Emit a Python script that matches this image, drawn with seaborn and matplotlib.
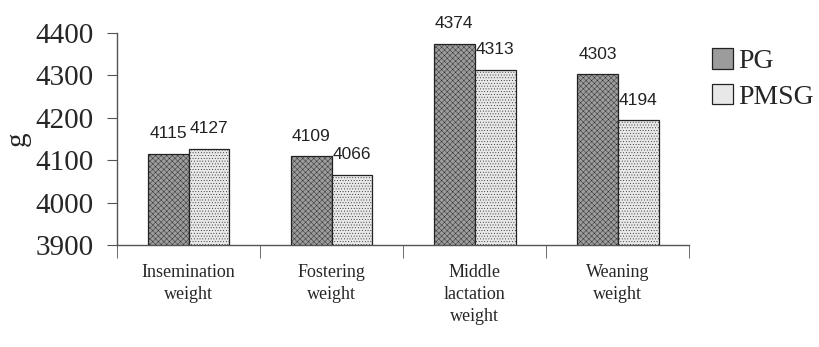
import pandas as pd
import matplotlib
matplotlib.use("Agg")
import matplotlib.pyplot as plt
import seaborn as sns

sns.set_style("white")
plt.rcParams["font.family"] = ["Liberation Serif", "DejaVu Serif"]
plt.rcParams["hatch.linewidth"] = 0.3

# data
categories = ["Insemination\nweight", "Fostering\nweight", "Middle\nlactation\nweight", "Weaning\nweight"]
groups = ["PG", "PMSG"]
pg_values = [4115, 4109, 4374, 4303]
pmsg_values = [4127, 4066, 4313, 4194]

df = pd.DataFrame({
    "category": categories * 2,
    "group": [groups[0]] * 4 + [groups[1]] * 4,
    "value": pg_values + pmsg_values,
})

fig = plt.figure(figsize=(8.2, 3.47), dpi=100)
ax = fig.add_axes([0.1427, 0.294, 0.698, 0.611])

sns.barplot(data=df, x="category", y="value", hue="group", order=categories,
            hue_order=groups, palette={"PG": "#9c9c9c", "PMSG": "#e8e8e8"},
            width=0.57, edgecolor="#222222", linewidth=0.9, ax=ax, legend=True)

hatches = {"PG": "xxxxxx", "PMSG": "......"}
for cont, g in zip(ax.containers, groups):
    for bar in cont:
        bar.set_hatch(hatches[g])
    ax.bar_label(cont, fmt="%d", padding=9, fontsize=12.5,
                 family=["Liberation Sans", "DejaVu Sans"], color="#222222")

ax.set_ylim(3900, 4400)
ax.set_yticks([3900, 4000, 4100, 4200, 4300, 4400])
ax.set_xlim(-0.5, 3.5)
ax.tick_params(axis="y", labelsize=21, length=7, direction="out", color="#555555",
               left=True, pad=10)
ax.tick_params(axis="x", which="major", length=0, labelsize=13, pad=14)
ax.set_xticks([-0.5, 0.5, 1.5, 2.5, 3.5], minor=True)
ax.tick_params(axis="x", which="minor", length=9, direction="out", color="#555555",
               bottom=True)
for lbl in ax.get_xticklabels():
    lbl.set_linespacing(1.35)

ax.set_xlabel("")
ax.set_ylabel("g", fontsize=21, rotation=90, labelpad=3)
sns.despine(ax=ax)
for s in ["left", "bottom"]:
    ax.spines[s].set_color("#555555")
    ax.spines[s].set_linewidth(1.0)

ax.legend(loc="upper left", bbox_to_anchor=(1.02, 0.98), frameon=False,
          fontsize=20, handlelength=0.75, handleheight=0.75, handletextpad=0.2,
          labelspacing=0.35, borderaxespad=0)

fig.savefig("out.png", dpi=100)
